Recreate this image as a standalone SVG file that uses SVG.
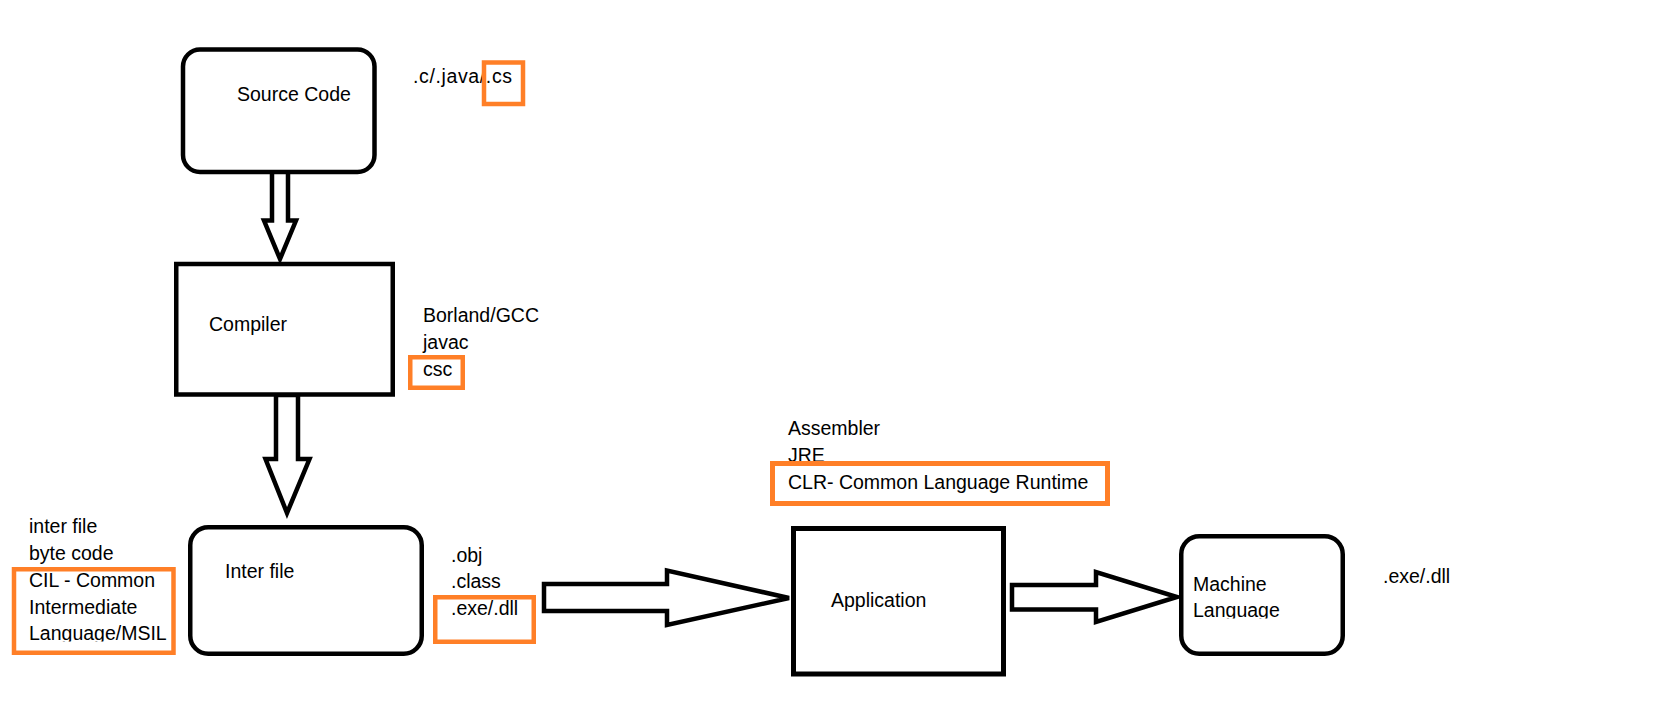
<svg xmlns="http://www.w3.org/2000/svg" width="1665" height="716" viewBox="0 0 1665 716">
  <style>
    .box { fill: #ffffff; stroke: #000000; stroke-width: 4.5; }
    .hl { fill: none; stroke: #FF7F27; stroke-width: 4.5; }
    .arr { fill: #ffffff; stroke: #000000; stroke-width: 4.5; stroke-linejoin: miter; }
    text { font-family: "Liberation Sans", Arial, sans-serif; font-size: 19.5px; fill: #000000; }
  </style>
  <defs>
    <clipPath id="clipMSIL"><rect x="0" y="560" width="180" height="81.5"/></clipPath>
    <clipPath id="clipMachine"><rect x="1183" y="560" width="160" height="58.5"/></clipPath>
  </defs>
  <rect width="1665" height="716" fill="#ffffff"/>

  <g id="connectors">
    <polygon class="arr" points="272,171 272,220.5 264,220.5 280,259 296,220.5 288,220.5 288,171"/>
    <polygon class="arr" points="276,395 276,459 265.5,459 287,513 309.5,459 298,459 298,395"/>
    <polygon class="arr" points="544,584 667,584 667,570.5 789,598 667,625 667,611 544,611"/>
    <polygon class="arr" points="1012,585 1096,585 1096,572 1177,597 1096,622 1096,609.5 1012,609.5"/>
  </g>

  <g id="node-source">
    <rect class="box" x="183" y="49.5" width="191.5" height="122.5" rx="17" ry="17"/>
    <text x="237" y="101">Source Code</text>
  </g>
  <g id="label-source-ext">
    <text x="413" y="83" textLength="99" lengthAdjust="spacing">.c/.java/.cs</text>
    <rect class="hl" x="484" y="62.5" width="39" height="41.5"/>
  </g>

  <g id="node-compiler">
    <rect class="box" x="176.25" y="264" width="216.5" height="130.5"/>
    <text x="209" y="331">Compiler</text>
  </g>
  <g id="label-compilers">
    <text x="423" y="322">Borland/GCC</text>
    <text x="423" y="349">javac</text>
    <text x="423" y="376">csc</text>
    <rect class="hl" x="410.25" y="357.25" width="52.5" height="30.5"/>
  </g>

  <g id="node-inter">
    <rect class="box" x="190.25" y="527.25" width="231.5" height="126.5" rx="18" ry="18"/>
    <text x="225" y="578">Inter file</text>
  </g>
  <g id="label-inter">
    <text x="29" y="533">inter file</text>
    <text x="29" y="560">byte code</text>
    <text x="29" y="587">CIL - Common</text>
    <text x="29" y="614">Intermediate</text>
    <text x="29" y="640" clip-path="url(#clipMSIL)">Language/MSIL</text>
    <rect class="hl" x="14" y="569.25" width="159.5" height="83.5"/>
  </g>
  <g id="label-inter-ext">
    <text x="451" y="562">.obj</text>
    <text x="451" y="588">.class</text>
    <text x="451" y="615">.exe/.dll</text>
    <rect class="hl" x="435.25" y="597.25" width="98.5" height="44.5"/>
  </g>

  <g id="node-application">
    <rect class="box" x="793.5" y="528.5" width="210" height="145.5" style="stroke-width:5"/>
    <text x="831" y="607">Application</text>
  </g>
  <g id="label-runtime">
    <text x="788" y="435">Assembler</text>
    <text x="788" y="462">JRE</text>
    <text x="788" y="489">CLR- Common Language Runtime</text>
    <rect class="hl" x="772.5" y="463.5" width="335" height="40" style="stroke-width:5"/>
  </g>

  <g id="node-machine">
    <rect class="box" x="1181.25" y="536.25" width="161.5" height="117.5" rx="18" ry="18"/>
    <text x="1193" y="591">Machine</text>
    <text x="1193" y="617" clip-path="url(#clipMachine)">Language</text>
  </g>
  <g id="label-machine-ext">
    <text x="1383" y="583">.exe/.dll</text>
  </g>
</svg>
